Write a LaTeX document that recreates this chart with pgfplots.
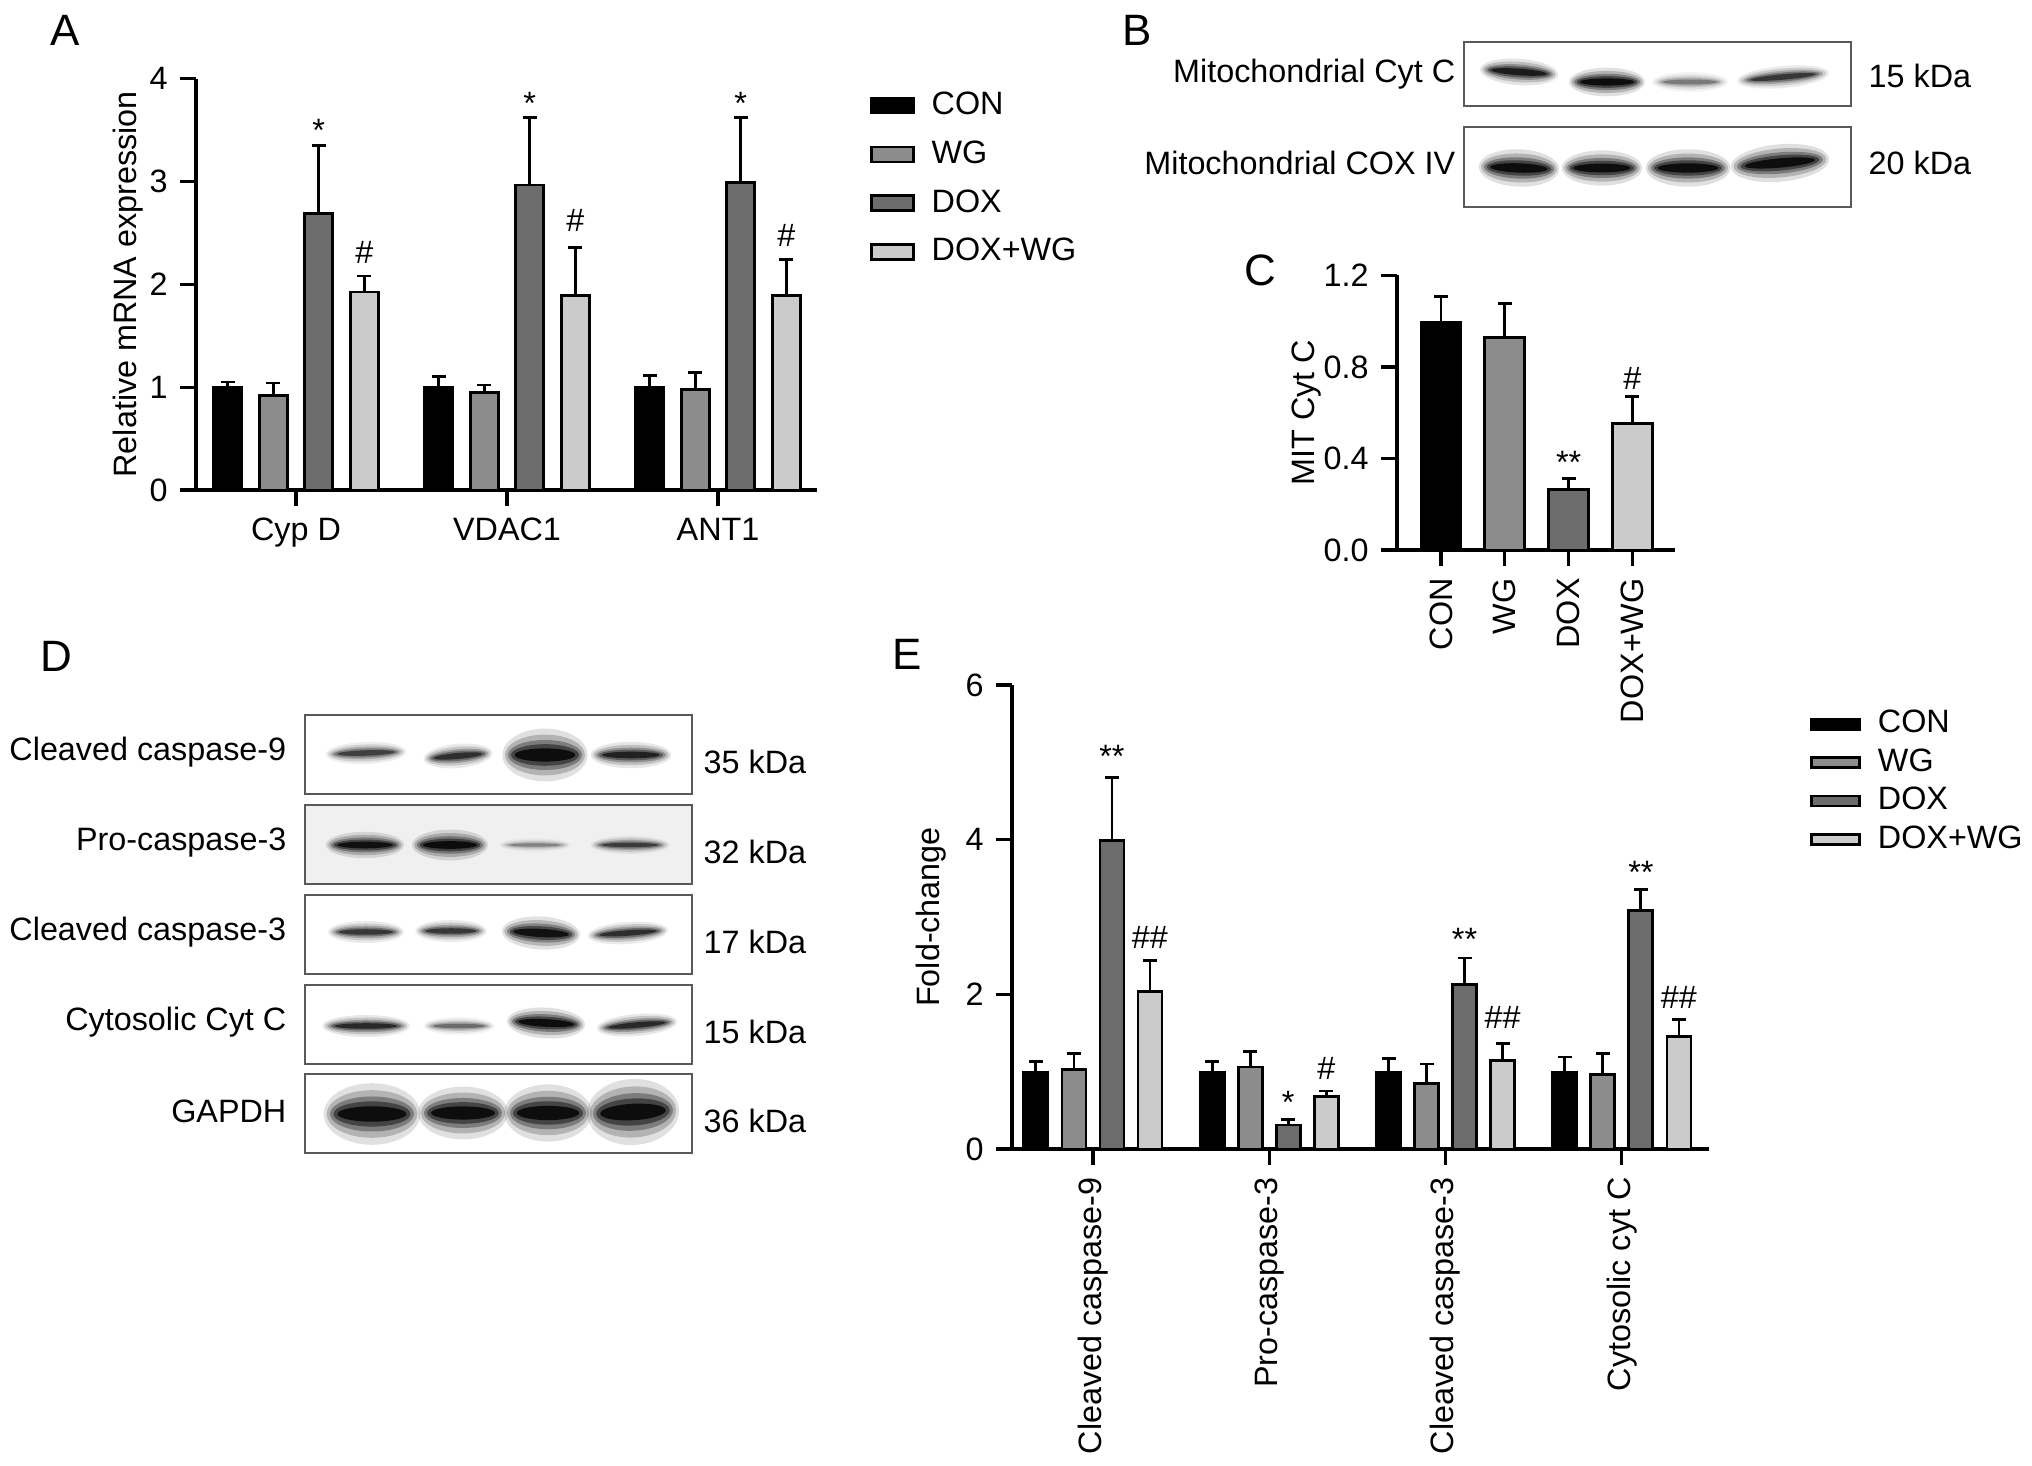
\documentclass[border=0pt]{standalone}
\usepackage{pgfplots}
\pgfplotsset{compat=1.18}
\usepackage{fontspec}
\setmainfont{Liberation Sans}

\definecolor{cwg}{HTML}{8C8C8C}
\definecolor{cdox}{HTML}{6C6C6C}
\definecolor{cdw}{HTML}{CBCBCB}
\newcommand\lab{\fontsize{9.2}{11}\selectfont}
\newcommand\pan{\fontsize{12.5}{14}\selectfont}

\tikzset{
  blotname/.style={anchor=east, font=\lab, inner sep=0pt},
  blotkda/.style={anchor=west, font=\lab, inner sep=0pt},
}
\pgfplotsset{
  gp/.style={
    scale only axis, clip=false, enlargelimits=false,
    axis x line*=bottom, axis y line*=left,
    axis line style={line width=0.9pt},
    every tick/.style={line width=0.9pt, black},
    major tick length=1.6mm, tick align=outside,
    tick label style={font=\lab},
    label style={font=\lab},
    /pgf/number format/assume math mode=true,
    ymin=0,
  },
  bar/.style 2 args={ybar, bar width=#1, bar shift=0pt, draw=black,
    line width=0.8pt, fill=#2, forget plot,
    error bars/.cd, y dir=plus, y explicit,
    error bar style={line width=0.8pt, black},
    error mark options={rotate=90, line width=0.8pt, mark size=0.7mm}},
  stars/.style={draw=none, mark=none, forget plot, nodes near coords,
    point meta=explicit symbolic,
    nodes near coords style={anchor=center, font=\lab, inner sep=0pt}},
  lgA/.style={legend image code/.code={\draw[fill=#1, draw=black, line width=0.8pt]
    (0mm,-0.75mm) rectangle (4.2mm,0.75mm);}},
  lgE/.style={legend image code/.code={\draw[fill=#1, draw=black, line width=0.8pt]
    (0mm,-0.5mm) rectangle (4.8mm,0.5mm);}},
  blot/.style={scale only axis, width=38.7mm, xmin=0, xmax=387, ymin=0,
    ticks=none, clip=false, axis line style={line width=0.7pt, black!65}},
  bandmark/.style={only marks, mark=*, mark size=0.1mm, forget plot},
}
% one soft blot band, drawn as stacked translucent ellipses:
% lane x, y (px from box left / bottom), half width, half height, darkness, tilt
\newcommand\bandlayer[9]{%
  \addplot[bandmark, mark options={draw opacity=0, line width=0pt, fill=black,
    fill opacity=#9*#5, rotate=#6, xscale=#7*#3, yscale=#8*#4}] coordinates {(#1,#2)};
}
\newcommand\band[6]{%
  \bandlayer{#1}{#2}{#3}{#4}{#5}{#6}{1.15}{2.2}{0.12}
  \bandlayer{#1}{#2}{#3}{#4}{#5}{#6}{1.08}{1.7}{0.2}
  \bandlayer{#1}{#2}{#3}{#4}{#5}{#6}{1.0}{1.25}{0.3}
  \bandlayer{#1}{#2}{#3}{#4}{#5}{#6}{0.92}{0.9}{0.45}
  \bandlayer{#1}{#2}{#3}{#4}{#5}{#6}{0.82}{0.55}{0.8}
}

\begin{document}
\begin{tikzpicture}[x=0.1mm, y=0.1mm]
\path[use as bounding box, fill=white] (0,0) rectangle (2032,-1466);
% lower left corners of the panels' plot boxes
\coordinate (pA) at (196,-490);
\coordinate (pB1) at (1464,-106);
\coordinate (pB2) at (1464,-207);
\coordinate (pC) at (1397,-550);
\coordinate (pD1) at (305,-794);
\coordinate (pD2) at (305,-884);
\coordinate (pD3) at (305,-974);
\coordinate (pD4) at (305,-1064);
\coordinate (pD5) at (305,-1153);
\coordinate (pE) at (1012,-1149);

\node[font=\pan] at (65,-30) {A};
\node[font=\pan] at (1137,-30) {B};
\node[font=\pan] at (1260,-270) {C};
\node[font=\pan] at (56,-656) {D};
\node[font=\pan] at (907,-654) {E};

% ---------------- A
\begin{axis}[gp, at={(pA)}, anchor=south west,
  width=62.1mm, height=41.15mm,
  xmin=-0.474, xmax=2.469, ymax=4, ytick={0,1,2,3,4},
  xtick={0,1,2}, xticklabels={Cyp D,VDAC1,ANT1},
  ylabel={Relative mRNA expression}, ylabel style={yshift=-1.8mm},
  legend cell align=left,
  legend style={draw=none, fill=none, at={(1.067,0.756)}, anchor=west,
    font=\lab, row sep=0.7mm, column sep=1mm}]
\addlegendimage{lgA=black}\addlegendentry{CON}
\addlegendimage{lgA=cwg}\addlegendentry{WG}
\addlegendimage{lgA=cdox}\addlegendentry{DOX}
\addlegendimage{lgA=cdw}\addlegendentry{DOX+WG}
\addplot[bar={2.8mm}{black}] coordinates {
  (-0.3235,1.00) +- (0,0.05) (0.6765,1.00) +- (0,0.10) (1.6765,1.00) +- (0,0.11)};
\addplot[bar={2.8mm}{cwg}] coordinates {
  (-0.1078,0.92) +- (0,0.12) (0.8922,0.945) +- (0,0.075) (1.8922,0.98) +- (0,0.16)};
\addplot[bar={2.8mm}{cdox}] coordinates {
  (0.1078,2.69) +- (0,0.66) (1.1078,2.965) +- (0,0.655) (2.1078,2.99) +- (0,0.63)};
\addplot[bar={2.8mm}{cdw}] coordinates {
  (0.3235,1.925) +- (0,0.155) (1.3235,1.89) +- (0,0.47) (2.3235,1.89) +- (0,0.35)};
\addplot[stars] coordinates {
  (0.1078,3.50) [*] (1.1078,3.76) [*] (2.1078,3.76) [*]
  (0.3235,2.31) [\#] (1.3235,2.62) [\#] (2.3235,2.47) [\#]};
\end{axis}

% ---------------- B
\begin{axis}[blot, at={(pB1)}, anchor=south west, height=6.4mm, ymax=64]
\band{55}{34}{34}{6}{0.85}{-4}
\band{143}{24}{33}{6.5}{1}{0}
\band{226}{24}{33}{4.5}{0.35}{0}
\band{319}{29}{40}{5}{0.65}{5}
\node[blotname, xshift=-0.8mm] at (rel axis cs:0,0.5) {Mitochondrial Cyt C};
\node[blotkda, xshift=1.7mm] at (rel axis cs:1,0.47) {15 kDa};
\end{axis}
\begin{axis}[blot, at={(pB2)}, anchor=south west, height=8mm, ymax=80]
\band{55}{39}{35}{8.5}{1}{-2}
\band{138}{39}{35}{8}{1}{0}
\band{224}{39}{37}{8.5}{1}{0}
\band{316}{44}{43}{8.5}{1}{5}
\node[blotname, xshift=-0.8mm] at (rel axis cs:0,0.55) {Mitochondrial COX IV};
\node[blotkda, xshift=1.7mm] at (rel axis cs:1,0.55) {20 kDa};
\end{axis}

% ---------------- C
\begin{axis}[gp, at={(pC)}, anchor=south west,
  width=27.8mm, height=27.45mm,
  xmin=-0.69, xmax=3.667, ymax=1.2, ytick={0,0.4,0.8,1.2},
  yticklabel style={/pgf/number format/.cd, fixed, fixed zerofill, precision=1},
  xtick={0,1,2,3}, xticklabels={CON,WG,DOX,DOX+WG},
  xticklabel style={rotate=90, anchor=east},
  ylabel={MIT Cyt C}, ylabel style={yshift=-2.2mm}]
\addplot[bar={4mm}{black}] coordinates {(0,0.995) +- (0,0.113)};
\addplot[bar={4mm}{cwg}] coordinates {(1,0.929) +- (0,0.147)};
\addplot[bar={4mm}{cdox}] coordinates {(2,0.263) +- (0,0.05)};
\addplot[bar={4mm}{cdw}] coordinates {(3,0.554) +- (0,0.116)};
\addplot[stars] coordinates {(2,0.385) [**] (3,0.75) [\#]};
\end{axis}

% ---------------- D
\begin{axis}[blot, at={(pD1)}, anchor=south west, height=7.9mm, ymax=79]
\band{61}{41}{35}{5}{0.6}{2}
\band{153}{38}{30}{5.5}{0.7}{5}
\band{240}{39}{37}{12}{1}{0}
\band{326}{39}{35}{6}{0.8}{0}
\node[blotname, xshift=-1.8mm] at (rel axis cs:0,0.53) {Cleaved caspase-9};
\node[blotkda, xshift=1.1mm] at (rel axis cs:1,0.41) {35 kDa};
\end{axis}
\begin{axis}[blot, at={(pD2)}, anchor=south west, height=7.9mm, ymax=79,
  axis background/.style={fill=black!6}]
\band{60}{39}{34}{6}{0.95}{0}
\band{145}{39}{33}{7}{1}{0}
\band{230}{39}{31}{3}{0.3}{0}
\band{325}{39}{34}{4}{0.6}{0}
\node[blotname, xshift=-1.8mm] at (rel axis cs:0,0.53) {Pro-caspase-3};
\node[blotkda, xshift=1.1mm] at (rel axis cs:1,0.41) {32 kDa};
\end{axis}
\begin{axis}[blot, at={(pD3)}, anchor=south west, height=7.9mm, ymax=79]
\band{61}{42}{33}{5}{0.65}{0}
\band{146}{43}{31}{5}{0.65}{0}
\band{236}{41}{34}{7.5}{0.95}{-3}
\band{323}{41}{35}{5}{0.7}{4}
\node[blotname, xshift=-1.8mm] at (rel axis cs:0,0.53) {Cleaved caspase-3};
\node[blotkda, xshift=1.1mm] at (rel axis cs:1,0.41) {17 kDa};
\end{axis}
\begin{axis}[blot, at={(pD4)}, anchor=south west, height=7.9mm, ymax=79]
\band{61}{38}{38}{5}{0.75}{0}
\band{154}{38}{31}{4}{0.4}{0}
\band{241}{41}{34}{7}{1}{-3}
\band{332}{39}{35}{5}{0.75}{5}
\node[blotname, xshift=-1.8mm] at (rel axis cs:0,0.53) {Cytosolic Cyt C};
\node[blotkda, xshift=1.1mm] at (rel axis cs:1,0.41) {15 kDa};
\end{axis}
\begin{axis}[blot, at={(pD5)}, anchor=south west, height=7.9mm, ymax=79]
\band{67}{39}{42}{14}{1}{0}
\band{158}{40}{39}{12}{1}{0}
\band{243}{40}{38}{13}{1}{0}
\band{328}{41}{40}{15}{1}{3}
\node[blotname, xshift=-1.8mm] at (rel axis cs:0,0.53) {GAPDH};
\node[blotkda, xshift=1.1mm] at (rel axis cs:1,0.41) {36 kDa};
\end{axis}

% ---------------- E
\begin{axis}[gp, at={(pE)}, anchor=south west,
  width=69.7mm, height=46.4mm,
  xmin=-0.459, xmax=3.494, ymax=6, ytick={0,2,4,6},
  xtick={0,1,2,3},
  xticklabels={Cleaved caspase-9,Pro-caspase-3,Cleaved caspase-3,Cytosolic cyt C},
  xticklabel style={rotate=90, anchor=east},
  ylabel={Fold-change}, ylabel style={yshift=-0.5mm},
  legend cell align=left,
  legend style={draw=none, fill=none, at={(1.129,0.7915)}, anchor=west,
    font=\lab, row sep=-0.35mm, column sep=1mm}]
\addlegendimage{lgE=black}\addlegendentry{CON}
\addlegendimage{lgE=cwg}\addlegendentry{WG}
\addlegendimage{lgE=cdox}\addlegendentry{DOX}
\addlegendimage{lgE=cdw}\addlegendentry{DOX+WG}
\addplot[bar={2.4mm}{black}] coordinates {
  (-0.3235,0.99) +- (0,0.14) (0.6765,0.99) +- (0,0.14)
  (1.6765,0.99) +- (0,0.18) (2.6765,0.99) +- (0,0.20)};
\addplot[bar={2.4mm}{cwg}] coordinates {
  (-0.1078,1.03) +- (0,0.21) (0.8922,1.06) +- (0,0.20)
  (1.8922,0.85) +- (0,0.25) (2.8922,0.96) +- (0,0.28)};
\addplot[bar={2.4mm}{cdox}] coordinates {
  (0.1078,3.99) +- (0,0.81) (1.1078,0.31) +- (0,0.07)
  (2.1078,2.13) +- (0,0.34) (3.1078,3.08) +- (0,0.28)};
\addplot[bar={2.4mm}{cdw}] coordinates {
  (0.3235,2.04) +- (0,0.40) (1.3235,0.68) +- (0,0.07)
  (2.3235,1.14) +- (0,0.22) (3.3235,1.45) +- (0,0.22)};
\addplot[stars] coordinates {
  (0.1078,5.08) [**] (1.1078,0.60) [*] (2.1078,2.71) [**] (3.1078,3.58) [**]
  (0.3235,2.74) [\#\#] (1.3235,1.04) [\#] (2.3235,1.70) [\#\#] (3.3235,1.96) [\#\#]};
\end{axis}
\end{tikzpicture}
\end{document}
